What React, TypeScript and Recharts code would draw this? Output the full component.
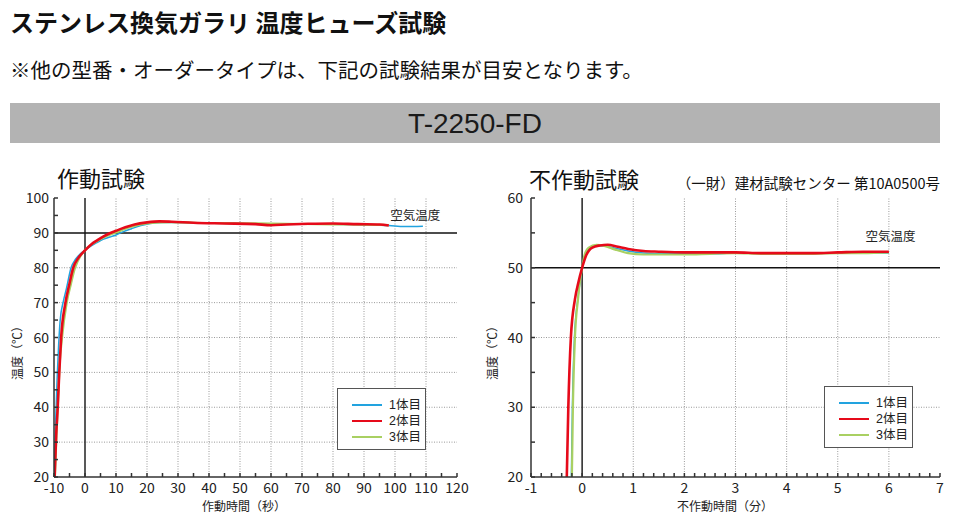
import React from "react";
import { LineChart, Line, XAxis, YAxis, ReferenceLine, ReferenceDot, Legend } from "recharts";

const FONT = '"Noto Sans CJK JP", "Noto Sans", sans-serif';
const LEGEND_FONT = '"Liberation Sans", "Noto Sans CJK JP", sans-serif';

type Pt = [number, number];

// 作動試験: [time (s), temperature (°C)]
const opSample1: Pt[] = [
  [-9.9, 20], [-9.5, 35], [-9.0, 48], [-8.5, 58], [-8.0, 65], [-7.0, 70.3], [-6.0, 74], [-4.5, 80],
  [-3.0, 82.5], [-1.5, 84], [0, 85], [2, 86.3], [4, 87.3], [6, 88.2], [8, 88.8], [10, 89.4], [12, 90.2],
  [15, 91.2], [18, 92.1], [21, 92.7], [25, 93], [30, 93], [40, 92.8], [50, 92.7], [60, 92.4], [70, 92.5],
  [80, 92.5], [90, 92.3], [98, 92.1], [103, 91.8], [109, 91.9],
];
const opSample2: Pt[] = [
  [-9.8, 20], [-9.3, 32], [-8.8, 40], [-8.3, 50], [-7.7, 60], [-6.3, 70], [-5.0, 75.5], [-3.8, 80],
  [-2.0, 83], [0, 85], [2, 86.7], [4, 87.9], [6, 89], [8, 89.9], [10, 90.6], [13, 91.6], [16, 92.4],
  [20, 93], [24, 93.3], [28, 93.2], [35, 92.9], [45, 92.7], [55, 92.5], [60, 92.2], [65, 92.4], [72, 92.6],
  [80, 92.7], [88, 92.5], [95, 92.4], [98, 92.1],
];
const opSample3: Pt[] = [
  [-9.7, 20], [-9.2, 32], [-8.7, 42], [-8.2, 52], [-7.4, 60], [-5.9, 70], [-4.5, 75.5], [-3.2, 80],
  [-1.5, 83.3], [0, 85], [2, 86.6], [4, 87.7], [6, 88.7], [8, 89.5], [10, 90.1], [13, 91.2], [16, 92],
  [20, 92.7], [24, 93], [28, 93.1], [35, 92.9], [45, 92.8], [55, 92.7], [65, 92.6], [75, 92.5], [85, 92.4],
  [95, 92.3], [98, 92.2],
];

// 不作動試験: [time (min), temperature (°C)]
const ndSample1: Pt[] = [
  [-0.21, 20], [-0.19, 30], [-0.15, 40], [-0.085, 45.5], [-0.04, 48], [0, 50], [0.06, 51.8], [0.15, 52.8],
  [0.3, 53.2], [0.45, 53.1], [0.65, 52.8], [0.9, 52.4], [1.2, 52.1], [1.5, 52], [2, 52], [2.5, 52], [3, 52.1],
  [3.5, 52.1], [4, 52.1], [4.5, 52.1], [5, 52.1], [5.5, 52.1], [6, 52.1],
];
const ndSample2: Pt[] = [
  [-0.3, 20], [-0.27, 30], [-0.22, 40], [-0.14, 45.5], [-0.07, 48], [0, 50], [0.08, 51.8], [0.2, 52.9],
  [0.35, 53.2], [0.5, 53.3], [0.7, 53], [0.9, 52.7], [1.2, 52.4], [1.5, 52.3], [2, 52.2], [2.5, 52.2],
  [3, 52.2], [3.5, 52.1], [4, 52.1], [4.5, 52.1], [5, 52.2], [5.5, 52.3], [6, 52.3],
];
const ndSample3: Pt[] = [
  [-0.2, 20], [-0.18, 30], [-0.14, 40], [-0.08, 45.5], [-0.04, 48.2], [0, 50], [0.05, 51.9], [0.13, 52.9],
  [0.28, 53.3], [0.45, 53.1], [0.65, 52.6], [0.9, 52.1], [1.2, 51.9], [1.5, 51.9], [2, 51.9], [2.5, 52],
  [3, 52.1], [3.5, 52], [4, 52], [4.5, 52], [5, 52.1], [5.5, 52.1], [6, 52.2],
];

const sampleNames = ["1体目", "2体目", "3体目"];
const sampleColors = ["#22a3df", "#e60a1a", "#a9d062"];
const sampleWidths = [1.5, 2.6, 2.2];
const drawOrder = [0, 2, 1];

const opMajorX = [-10, 0, 10, 20, 30, 40, 50, 60, 70, 80, 90, 100, 110, 120];
const opMajorY = [20, 30, 40, 50, 60, 70, 80, 90, 100];
const ndMajorX = [-1, 0, 1, 2, 3, 4, 5, 6, 7];
const ndMajorY = [20, 30, 40, 50, 60];

const steps = (from: number, to: number, step: number) => {
  const out: number[] = [];
  const n = Math.round((to - from) / step);
  for (let i = 0; i <= n; i++) out.push(Math.round((from + i * step) * 1000) / 1000);
  return out;
};

const toRows = (pts: Pt[]) => pts.map(([t, v]) => ({ t, v }));
const isIn = (list: number[], v: number) => list.some((m) => Math.abs(m - v) < 1e-6);

const makeTick = (major: number[], side: "bottom" | "left") => (props: any) => {
  const { x, y, payload } = props;
  if (!isIn(major, payload.value)) return <g />;
  return (
    <text x={x} y={y} dy="0.36em" textAnchor={side === "left" ? "end" : "middle"} fontSize={14} fill="#222" fontFamily={FONT}>
      {payload.value}
    </text>
  );
};

const axisTitle = (value: string, dx: number, dy: number, rotate: boolean) => (props: any) => {
  const vb = props.viewBox;
  const x = rotate ? vb.x + dx : vb.x + vb.width / 2 + dx;
  const y = rotate ? vb.y + vb.height / 2 + dy : vb.y + dy;
  return (
    <text x={x} y={y} dy="0.36em" textAnchor="middle" fontSize={12} fill="#222" fontFamily={FONT}
      transform={rotate ? `rotate(-90 ${x} ${y})` : undefined}>
      {value}
    </text>
  );
};

const legendBox = (props: any) => {
  const items = [...(props.payload || [])].sort((a: any, b: any) => String(a.value).localeCompare(String(b.value)));
  return (
    <div style={{ width: 89, height: 62, boxSizing: "border-box", border: "1.5px solid #555", background: "#fff", paddingTop: 8, paddingLeft: 14, fontFamily: LEGEND_FONT }}>
      {items.map((it: any) => {
        const i = sampleNames.indexOf(it.value);
        return (
          <div key={it.value} style={{ display: "flex", alignItems: "center", height: 16 }}>
            <div style={{ width: 30, height: sampleWidths[i], background: it.color }} />
            <span style={{ marginLeft: 7, fontSize: 12.5, color: "#222", lineHeight: "14px" }}>{it.value}</span>
          </div>
        );
      })}
    </div>
  );
};

type ChartProps = {
  samples: Pt[][];
  xDomain: [number, number];
  yDomain: [number, number];
  xMajor: number[];
  yMajor: number[];
  xMinor: number[];
  yMinor: number[];
  baseY: number;
  yAxisWidth: number;
  marginRight: number;
  yTickMargin: number;
  xTitle: string;
  xTitleDx: number;
  yTitleDx: number;
  air: [number, number];
  legendPos: { left: number; top: number };
};

function TestChart(p: ChartProps) {
  const grid = "#9a9a9a";
  const axis = "#333";
  return (
    <LineChart width={480} height={378} margin={{ top: 48, right: p.marginRight, bottom: 0, left: 0 }}>
      <XAxis xAxisId="b" type="number" dataKey="t" domain={p.xDomain} ticks={p.xMinor} interval={0} allowDataOverflow
        height={51} tickSize={-4} tickMargin={14.7} stroke={axis} strokeWidth={1.5} tick={makeTick(p.xMajor, "bottom")}
        label={{ content: axisTitle(p.xTitle, p.xTitleDx, 29.7, false) }} />
      <XAxis xAxisId="t" orientation="top" type="number" dataKey="t" domain={p.xDomain} ticks={p.xMinor} interval={0}
        allowDataOverflow height={0} tickSize={-4} tick={false} stroke={axis} strokeWidth={1.5} />
      <YAxis yAxisId="l" type="number" domain={p.yDomain} ticks={p.yMinor} interval={0} allowDataOverflow width={p.yAxisWidth}
        tickSize={-4} tickMargin={p.yTickMargin} stroke={axis} strokeWidth={1.5} tick={makeTick(p.yMajor, "left")}
        label={{ content: axisTitle("温度（℃）", p.yTitleDx, 12.5, true) }} />
      <YAxis yAxisId="r" orientation="right" type="number" domain={p.yDomain} ticks={p.yMinor} interval={0} allowDataOverflow
        width={0} tickSize={-4} tick={false} stroke={axis} strokeWidth={1.5} />
      {p.xMajor.filter((v) => v !== p.xDomain[0] && v !== p.xDomain[1] && v !== 0).map((v) => (
        <ReferenceLine key={"gx" + v} xAxisId="b" yAxisId="l" x={v} stroke={grid} strokeDasharray="1 1.5" />
      ))}
      {p.yMajor.filter((v) => v !== p.yDomain[0] && v !== p.yDomain[1] && v !== p.baseY).map((v) => (
        <ReferenceLine key={"gy" + v} xAxisId="b" yAxisId="l" y={v} stroke={grid} strokeDasharray="1 1.5" />
      ))}
      <ReferenceLine xAxisId="b" yAxisId="l" x={0} stroke="#222" strokeWidth={1.5} />
      <ReferenceLine xAxisId="b" yAxisId="l" y={p.baseY} stroke="#111" strokeWidth={1.5} />
      {drawOrder.map((i) => (
        <Line key={i} xAxisId="b" yAxisId="l" data={toRows(p.samples[i])} dataKey="v" name={sampleNames[i]} type="monotone"
          stroke={sampleColors[i]} strokeWidth={sampleWidths[i]} dot={false} isAnimationActive={false} />
      ))}
      <ReferenceDot xAxisId="b" yAxisId="l" x={p.air[0]} y={p.air[1]} r={0} fill="none" stroke="none"
        label={{ value: "空気温度", position: "center", fontSize: 12.5, fill: "#222", fontFamily: FONT }} />
      <Legend layout="vertical" align="center" verticalAlign="middle" content={legendBox}
        wrapperStyle={{ left: p.legendPos.left, top: p.legendPos.top, width: 89, height: 62 }} />
    </LineChart>
  );
}

export default function App() {
  return (
    <div style={{ position: "absolute", left: 0, top: 0, width: 960, height: 528, background: "#fff", fontFamily: FONT, color: "#111" }}>
      <div style={{ position: "absolute", left: 10, top: 9, fontSize: 24, lineHeight: "26px", fontWeight: 700, whiteSpace: "nowrap" }}>
        ステンレス換気ガラリ 温度ヒューズ試験
      </div>
      <div style={{ position: "absolute", left: 10, top: 58, fontSize: 20.5, lineHeight: "22px", whiteSpace: "nowrap" }}>
        ※他の型番・オーダータイプは、下記の試験結果が目安となります。
      </div>
      <div style={{ position: "absolute", left: 10, top: 103, width: 930, height: 40, background: "#b3b3b3", textAlign: "center",
        fontFamily: '"Liberation Sans", Arial, sans-serif', fontSize: 28, lineHeight: "42px", color: "#1a1a1a" }}>
        T-2250-FD
      </div>
      <div style={{ position: "absolute", left: 57, top: 165, fontSize: 22, lineHeight: "24px", whiteSpace: "nowrap" }}>作動試験</div>
      <div style={{ position: "absolute", left: 529, top: 166, fontSize: 22, lineHeight: "24px", whiteSpace: "nowrap" }}>不作動試験</div>
      <div style={{ position: "absolute", right: 20, top: 174, fontSize: 14.5, lineHeight: "18px", whiteSpace: "nowrap" }}>
        （一財）建材試験センター 第10A0500号
      </div>
      <div style={{ position: "absolute", left: 0, top: 150 }}>
        <TestChart samples={[opSample1, opSample2, opSample3]} xDomain={[-10, 120]} yDomain={[20, 100]}
          xMajor={opMajorX} yMajor={opMajorY} xMinor={steps(-10, 120, 5)} yMinor={steps(20, 100, 5)} baseY={90}
          yAxisWidth={54} marginRight={23} yTickMargin={9} xTitle="作動時間（秒）" xTitleDx={-11.5} yTitleDx={18}
          air={[106.5, 95.1]} legendPos={{ left: 337, top: 238 }} />
      </div>
      <div style={{ position: "absolute", left: 480, top: 150 }}>
        <TestChart samples={[ndSample1, ndSample2, ndSample3]} xDomain={[-1, 7]} yDomain={[20, 60]}
          xMajor={ndMajorX} yMajor={ndMajorY} xMinor={steps(-1, 7, 0.2)} yMinor={steps(20, 60, 5)} baseY={50}
          yAxisWidth={51} marginRight={20} yTickMargin={12} xTitle="不作動時間（分）" xTitleDx={-10.5} yTitleDx={13}
          air={[6.03, 54.4]} legendPos={{ left: 344, top: 236 }} />
      </div>
    </div>
  );
}
